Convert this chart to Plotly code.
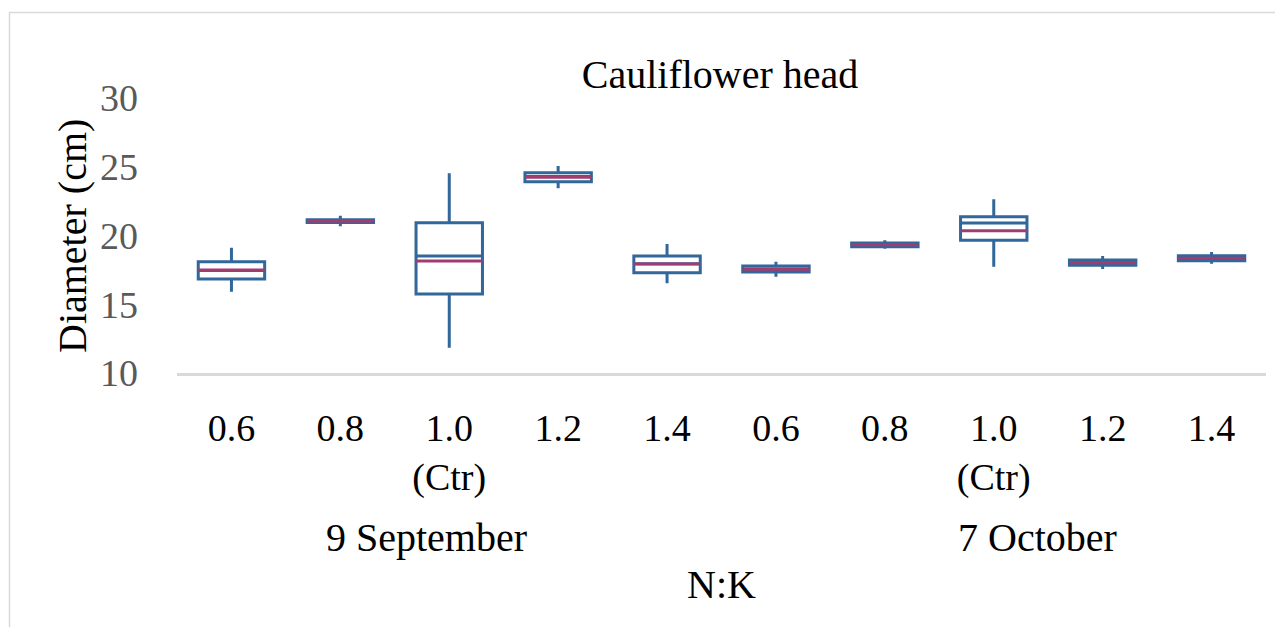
import plotly.graph_objects as go

# ---- data ----
nk_labels = ["0.6", "0.8", "1.0<br>(Ctr)", "1.2", "1.4",
             "0.6", "0.8", "1.0<br>(Ctr)", "1.2", "1.4"]
dates = ["9 September", "7 October"]
lower = [15.91, 20.67, 11.84, 23.43, 16.52, 17.00, 19.04, 17.73, 17.56, 17.95]
q1 = [16.84, 20.95, 15.75, 23.91, 17.29, 17.35, 19.19, 19.65, 17.83, 18.17]
median = [17.45, 21.05, 18.51, 24.30, 17.95, 17.55, 19.33, 20.91, 18.02, 18.34]
mean = [17.49, 21.05, 18.15, 24.23, 17.93, 17.54, 19.33, 20.35, 18.02, 18.34]
q3 = [18.09, 21.15, 20.93, 24.57, 18.51, 17.78, 19.45, 21.37, 18.22, 18.53]
upper = [19.11, 21.44, 24.52, 25.05, 19.38, 18.09, 19.65, 22.63, 18.51, 18.80]

FONT = "Liberation Serif"
BLUE = "#31679B"
MAG = "#A03D6F"
BOXW = 0.61

pos = list(range(len(nk_labels)))

fig = go.Figure()
fig.add_trace(go.Box(
    x=pos, q1=q1, median=median, q3=q3, lowerfence=lower, upperfence=upper,
    width=BOXW, whiskerwidth=0, line=dict(color=BLUE, width=3),
    fillcolor="white", boxpoints=False, showlegend=False, hoverinfo="skip",
))

mx, my = [], []
for p, m in zip(pos, mean):
    mx += [p - BOXW / 2, p + BOXW / 2, None]
    my += [m, m, None]
fig.add_trace(go.Scatter(x=mx, y=my, mode="lines",
                         line=dict(color=MAG, width=3),
                         showlegend=False, hoverinfo="skip"))

# page has an 8px body margin: figure origin sits at screen (8, 8)
OFF = 8
W, H = 1267, 619
L, R, T, B = 177 - OFF, 9, 98 - OFF, 254
pw, ph = W - L - R, H - T - B

def px_x(px):  # screen px -> paper x
    return (px - OFF - L) / pw

def px_y(py):  # screen px -> paper y
    return (H - B - (py - OFF)) / ph

fig.update_layout(
    width=W, height=H,
    margin=dict(l=L, r=R, t=T, b=B),
    paper_bgcolor="white", plot_bgcolor="white",
    font=dict(family=FONT, size=38, color="black"),
    title=dict(text="Cauliflower head", x=px_x(720), xref="paper",
               xanchor="center", y=1 - (74 - OFF) / H, yanchor="middle",
               font=dict(family=FONT, size=40, color="black")),
    xaxis=dict(range=[-0.5, 9.5], tickmode="array", tickvals=pos,
               ticktext=nk_labels, showgrid=False, zeroline=False,
               showline=True, linecolor="#D9D9D9", linewidth=3,
               ticks="", ticklabelstandoff=19,
               tickfont=dict(family=FONT, size=38, color="black")),
    yaxis=dict(range=[10, 30], tickvals=[10, 15, 20, 25, 30],
               showgrid=False, zeroline=False, showline=False, ticks="",
               ticklabelstandoff=38,
               tickfont=dict(family=FONT, size=38, color="#595959")),
    shapes=[dict(type="rect", xref="paper", yref="paper",
                 x0=px_x(9.5), x1=px_x(1300), y0=px_y(660), y1=px_y(12.5),
                 line=dict(color="#D9D9D9", width=1.5), layer="below")],
    annotations=[
        dict(text=dates[0], x=px_x(426), y=px_y(537), xref="paper", yref="paper",
             xanchor="center", yanchor="middle", showarrow=False,
             font=dict(family=FONT, size=40, color="black")),
        dict(text=dates[1], x=px_x(1037), y=px_y(537), xref="paper", yref="paper",
             xanchor="center", yanchor="middle", showarrow=False,
             font=dict(family=FONT, size=40, color="black")),
        dict(text="N:K", x=px_x(721), y=px_y(584), xref="paper", yref="paper",
             xanchor="center", yanchor="middle", showarrow=False,
             font=dict(family=FONT, size=40, color="black")),
        dict(text="Diameter (cm)", x=px_x(72), y=px_y(236), xref="paper",
             yref="paper", xanchor="center", yanchor="middle", textangle=-90,
             showarrow=False, font=dict(family=FONT, size=40, color="black")),
    ],
)

fig.write_html("out.html")
